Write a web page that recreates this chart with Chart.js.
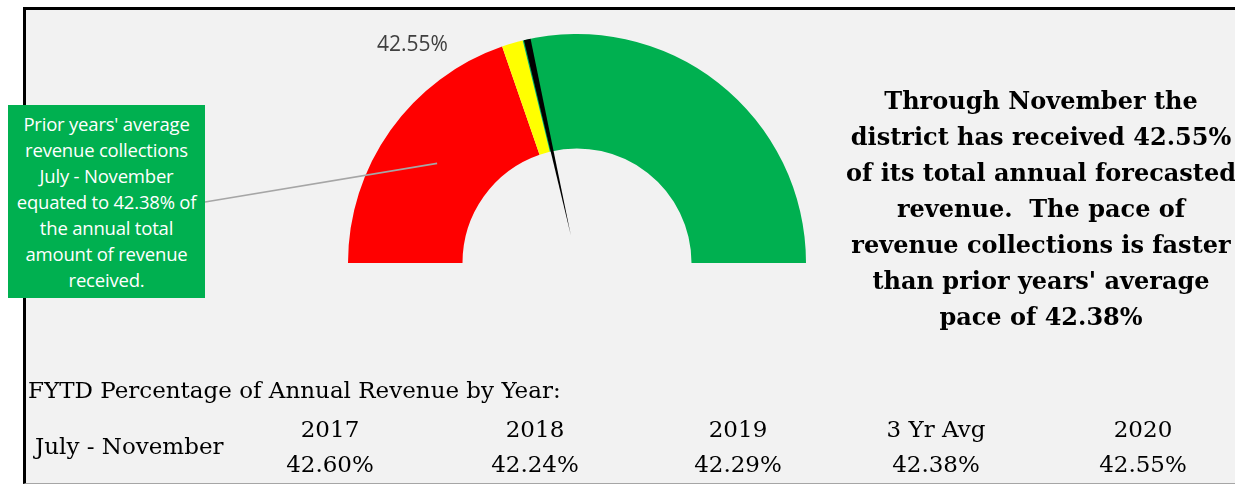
<!DOCTYPE html>
<html>
<head>
<meta charset="utf-8">
<script src="https://cdn.jsdelivr.net/npm/chart.js@4"></script>
<style>
  html, body { margin: 0; padding: 0; background: #ffffff; }
  #wrap { position: relative; width: 1235px; height: 484px; overflow: hidden; }
  #frame {
    position: absolute; left: 23px; top: 7px; width: 1240px; height: 473px;
    border-left: 3px solid #000; border-top: 3px solid #000; border-bottom: 1px solid #a6a6a6;
    background: #f2f2f2;
  }
  #gauge { position: absolute; left: 0; top: 0; }
  .t { position: absolute; white-space: pre; }
  #callout {
    position: absolute; left: 8px; top: 105px; width: 197px; height: 193px;
    background: #00b050; color: #fff; font-family: "Open Sans", sans-serif;
    font-size: 18.5px; line-height: 26px; text-align: center; white-space: nowrap;
    display: flex; align-items: center; justify-content: center; letter-spacing: -0.2px;
  }
  #label { left: 377px; top: 29px; font-family: "Open Sans", sans-serif; font-size: 21px; color: #404040; }
  #note {
    position: absolute; left: 836px; top: 83px; width: 410px;
    font-family: "DejaVu Serif", serif; font-weight: bold; font-size: 24px;
    line-height: 36px; text-align: center; color: #000; white-space: pre;
  }
  .tbl { font-family: "DejaVu Serif", serif; font-size: 23px; color: #000; }
  .col { transform: translateX(-50%); }
</style>
</head>
<body>
<div id="wrap">
  <div id="frame"></div>
  <canvas id="gauge" width="1235" height="484"></canvas>
  <div id="callout"><div id="calloutText"></div></div>
  <div class="t" id="label"></div>
  <div id="note"></div>
  <div id="table"></div>
</div>
<script>
// gauge bands: red, yellow, green (percent of the half circle)
const bandLabels = ['Behind', 'Near average', 'Ahead']
const bandValues = [39.4, 2.98, 57.62]
const bandColors = ['#ff0000', '#ffff00', '#00b050']

// needle
const currentPct = 42.55
const needleSpan = 0.95

// table under the gauge
const tableYears = ['2017', '2018', '2019', '3 Yr Avg', '2020']
const tablePcts = [42.60, 42.24, 42.29, 42.38, 42.55]
const tableRowLabel = 'July - November'
const tableTitle = 'FYTD Percentage of Annual Revenue by Year:'

const calloutLines = ["Prior years' average", 'revenue collections', 'July - November', 'equated to 42.38% of', 'the annual total', 'amount of revenue', 'received.']
const noteLines = ['Through November the', 'district has received 42.55%', 'of its total annual forecasted', 'revenue.  The pace of', 'revenue collections is faster', "than prior years' average", 'pace of 42.38%']

document.getElementById('calloutText').innerHTML = calloutLines.join('<br>')
document.getElementById('note').textContent = noteLines.join('\n')
document.getElementById('label').textContent = currentPct.toFixed(2) + '%'

// table text
const colX = [330, 535, 738, 936, 1143]
let html = '<div class="t tbl" style="left:28px;top:377px">' + tableTitle + '</div>'
html += '<div class="t tbl" style="left:35px;top:433px">' + tableRowLabel + '</div>'
tableYears.forEach((y, i) => {
  html += '<div class="t tbl col" style="left:' + colX[i] + 'px;top:416px">' + y + '</div>'
  html += '<div class="t tbl col" style="left:' + colX[i] + 'px;top:451px">' + tablePcts[i].toFixed(2) + '%</div>'
})
document.getElementById('table').innerHTML = html

const gaugeExtras = {
  id: 'gaugeExtras',
  afterDatasetsDraw(chart){
    const ctx = chart.ctx
    const arc = chart.getDatasetMeta(0).data[0]
    const { x, y, outerRadius } = arc.getProps(['x', 'y', 'outerRadius'], true)
    const ang = v => -Math.PI + Math.PI * v / 100 // 左端起算

    // leader line from callout box to the middle of the red band
    const c = arc.tooltipPosition(true)
    ctx.save()
    ctx.strokeStyle = '#a6a6a6'
    ctx.lineWidth = 1.6
    ctx.beginPath()
    ctx.moveTo(205, 202)
    ctx.lineTo(c.x, c.y)
    ctx.stroke()

    // needle wedge
    const a1 = ang(currentPct), a2 = ang(currentPct + needleSpan)
    const am = (a1 + a2) / 2
    const r0 = outerRadius * 0.125
    ctx.fillStyle = '#000'
    ctx.beginPath()
    ctx.moveTo(x + r0 * Math.cos(am), y + r0 * Math.sin(am))
    ctx.arc(x, y, outerRadius, a1, a2)
    ctx.closePath()
    ctx.fill()
    ctx.restore()
  }
}

new Chart(document.getElementById('gauge'), {
  type: 'doughnut',
  data: {
    labels: bandLabels,
    datasets: [{
      data: bandValues,
      backgroundColor: bandColors,
      borderWidth: 0,
      hoverOffset: 0
    }]
  },
  options: {
    responsive: false,
    animation: false,
    rotation: -90,
    circumference: 180,
    cutout: '50%',
    events: [],
    layout: { padding: { left: 348, right: 429, top: 34, bottom: 221 } },
    plugins: { legend: { display: false }, tooltip: { enabled: false } }
  },
  plugins: [gaugeExtras]
})
</script>
</body>
</html>
